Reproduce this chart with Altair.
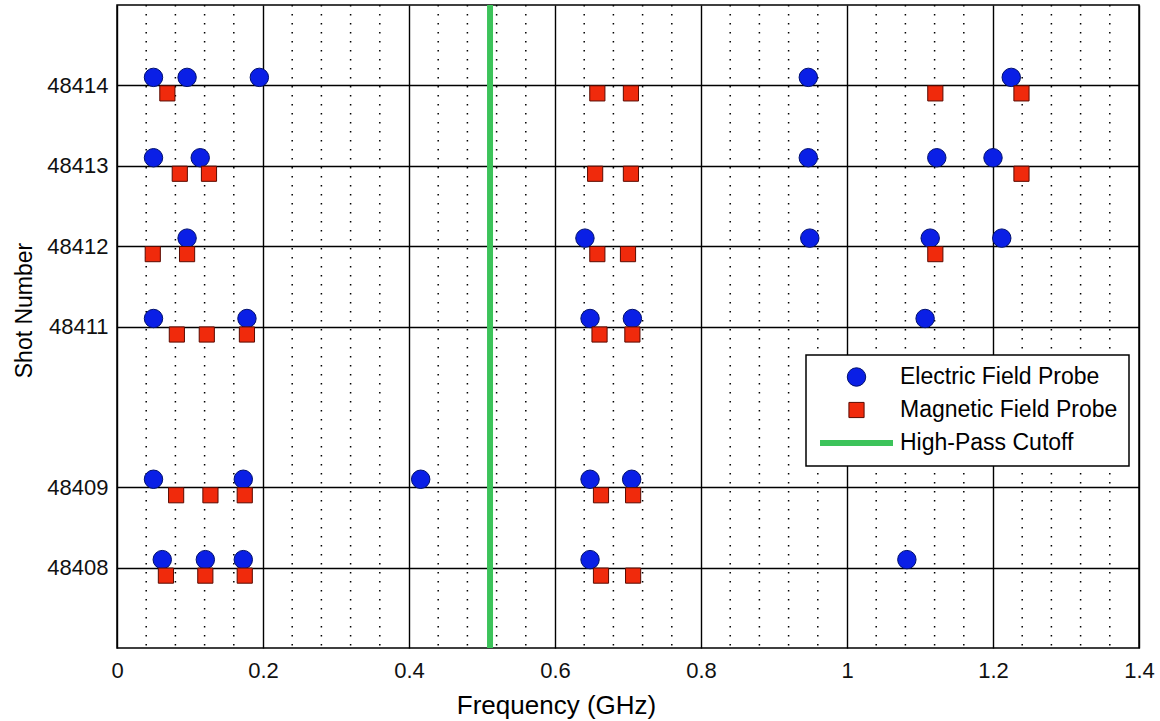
import altair as alt
import pandas as pd

# ---------------- data ----------------
SHOTS = [48414, 48413, 48412, 48411, 48409, 48408]

ELECTRIC_GHZ = [
    [0.050, 0.096, 0.195, 0.947, 1.225],   # 48414
    [0.050, 0.114, 0.947, 1.123, 1.200],   # 48413
    [0.096, 0.641, 0.949, 1.114, 1.212],   # 48412
    [0.050, 0.178, 0.648, 0.706, 1.107],   # 48411
    [0.050, 0.173, 0.416, 0.648, 0.705],   # 48409
    [0.062, 0.121, 0.173, 0.648, 1.082],   # 48408
]
MAGNETIC_GHZ = [
    [0.069, 0.658, 0.704, 1.121, 1.239],   # 48414
    [0.086, 0.126, 0.655, 0.704, 1.239],   # 48413
    [0.049, 0.096, 0.658, 0.700, 1.121],   # 48412
    [0.082, 0.123, 0.178, 0.661, 0.706],   # 48411
    [0.081, 0.128, 0.175, 0.663, 0.707],   # 48409
    [0.067, 0.121, 0.175, 0.663, 0.707],   # 48408
]
CUTOFF_GHZ = [0.511]

PROBES = ["Electric Field Probe", "Magnetic Field Probe", "High-Pass Cutoff"]
X_TICKS = [0, 0.2, 0.4, 0.6, 0.8, 1.0, 1.2, 1.4]
MINOR_GRID_GHZ = [0.04, 0.08, 0.12, 0.16, 0.24, 0.28, 0.32, 0.36,
                  0.44, 0.48, 0.52, 0.56, 0.64, 0.68, 0.72, 0.76,
                  0.84, 0.88, 0.92, 0.96, 1.04, 1.08, 1.12, 1.16,
                  1.24, 1.28, 1.32, 1.36]
Y_TICKS = [48408, 48409, 48411, 48412, 48413, 48414]

# ---------------- tables ----------------
e_rows, m_rows = [], []
for shot, evals, mvals in zip(SHOTS, ELECTRIC_GHZ, MAGNETIC_GHZ):
    for f in evals:
        e_rows.append({"freq": f, "shot": shot, "probe": PROBES[0]})
    for f in mvals:
        m_rows.append({"freq": f, "shot": shot, "probe": PROBES[1]})
e_df = pd.DataFrame(e_rows)
m_df = pd.DataFrame(m_rows)
cut_df = pd.DataFrame({"freq": CUTOFF_GHZ, "probe": [PROBES[2]] * len(CUTOFF_GHZ)})
minor_df = pd.DataFrame({"freq": MINOR_GRID_GHZ})

FONT = "Liberation Sans"

x_enc = alt.X(
    "freq:Q",
    scale=alt.Scale(domain=[0, 1.4], nice=False, zero=False),
    axis=alt.Axis(
        values=X_TICKS, format="~g", grid=True, gridColor="black", gridWidth=1.4,
        gridOpacity=1, domain=False, ticks=False, tickSize=0, labelFlush=False,
        labelOverlap=False, labelFont=FONT, labelFontSize=22, labelColor="#111",
        labelPadding=12, title="Frequency (GHz)", titleFont=FONT, titleFontSize=26,
        titleFontWeight="normal", titleColor="black", titleX=439, titleY=65,
        titleAlign="center", titleBaseline="alphabetic",
    ),
)
y_enc = alt.Y(
    "shot:Q",
    scale=alt.Scale(domain=[48407, 48415], nice=False, zero=False),
    axis=alt.Axis(
        values=Y_TICKS, format="d", grid=True, gridColor="black", gridWidth=1.4,
        gridOpacity=1, domain=False, ticks=False, tickSize=0, labelFlush=False,
        labelOverlap=False, labelFont=FONT, labelFontSize=22, labelColor="#111",
        labelPadding=9, title="Shot Number", titleFont=FONT, titleFontSize=23,
        titleFontWeight="normal", titleColor="black", titleX=-86, titleY=305,
        titleAlign="center", titleBaseline="alphabetic",
    ),
)

leg = alt.Legend(title=None, orient="none", legendX=689, legendY=350,
                 direction="vertical")
fill_enc = alt.Fill("probe:N", scale=alt.Scale(domain=PROBES,
                    range=["#0a1fe6", "#f02a0c", "#3cc35a"]), legend=leg)
stroke_enc = alt.Stroke("probe:N", scale=alt.Scale(domain=PROBES,
                        range=["#00106e", "#5a0a00", "#3cc35a"]), legend=leg)
shape_enc = alt.Shape("probe:N", scale=alt.Scale(domain=PROBES,
                      range=["circle", "square", "stroke"]), legend=leg)
size_enc = alt.Size("probe:N", scale=alt.Scale(type="ordinal", domain=PROBES,
                    range=[340, 230, 5329]), legend=leg)
sw_enc = alt.StrokeWidth("probe:N", scale=alt.Scale(type="ordinal", domain=PROBES,
                         range=[1, 1, 6]), legend=leg)

minor = alt.Chart(minor_df).mark_rule(
    color="black", strokeDash=[1.5, 7.5], strokeWidth=1.5
).encode(x=x_enc)

cutoff = alt.Chart(cut_df).mark_rule().encode(
    x=x_enc, stroke=stroke_enc, strokeWidth=sw_enc
)

elec = alt.Chart(e_df).mark_point(filled=True, opacity=1, yOffset=-8).encode(
    x=x_enc, y=y_enc, fill=fill_enc, stroke=stroke_enc, shape=shape_enc,
    size=size_enc, strokeWidth=sw_enc
)
magn = alt.Chart(m_df).mark_point(filled=True, opacity=1, yOffset=8).encode(
    x=x_enc, y=y_enc, fill=fill_enc, stroke=stroke_enc, shape=shape_enc,
    size=size_enc, strokeWidth=sw_enc
)

chart = alt.layer(minor, cutoff, elec, magn).properties(
    width=1022, height=643,
    autosize=alt.AutoSizeParams(type="none"),
    padding={"left": 117, "top": 5, "right": 21, "bottom": 73},
    background="white",
).configure_view(
    stroke="black", strokeWidth=1.5
).configure_legend(
    strokeColor="black", strokeWidth=1.5, fillColor="white", padding=11,
    cornerRadius=0, labelFont=FONT, labelFontSize=23, labelColor="black",
    labelOffset=4, clipHeight=22, rowPadding=10, symbolOpacity=1,
    labelLimit=400,
)

chart.save("out.html", embed_options={"renderer": "svg", "actions": False})
